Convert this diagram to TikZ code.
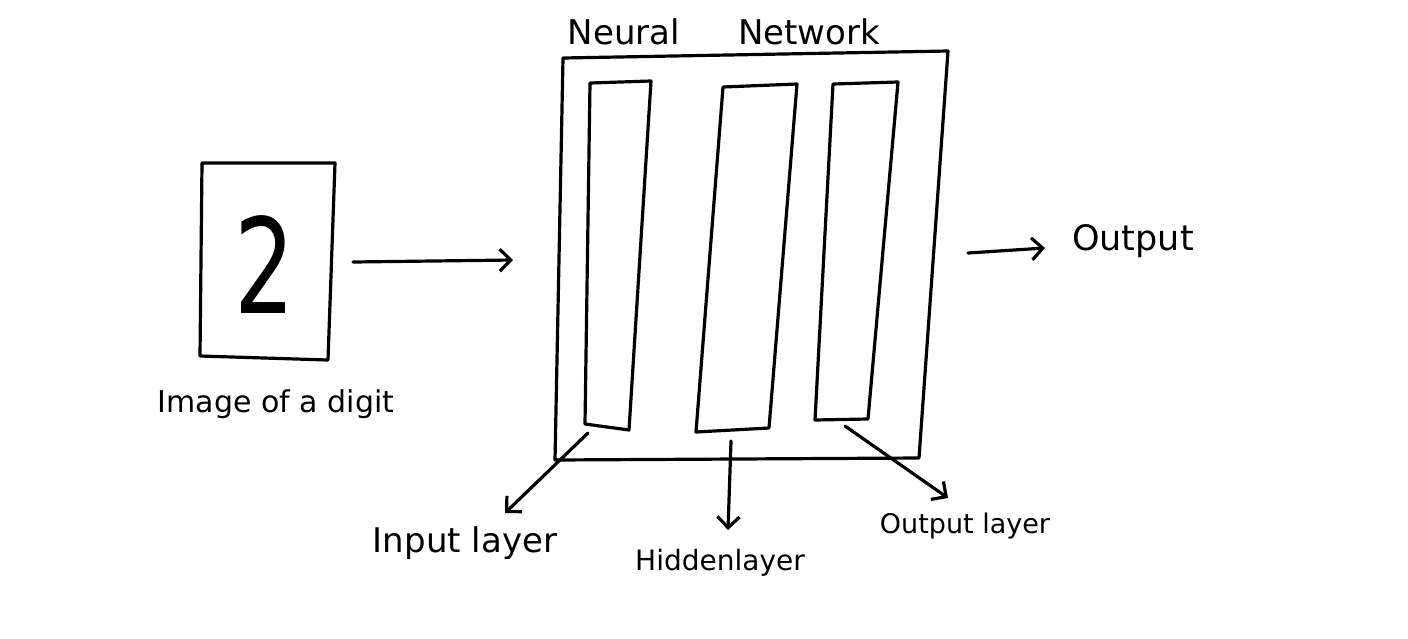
\documentclass[tikz,border=0pt]{standalone}
\usepackage{fontspec}
\setmainfont{DejaVu Sans}
\usetikzlibrary{arrows.meta}
\begin{document}
\begin{tikzpicture}[x=1pt,y=-1pt,
  ink/.style={line width=3.2pt, line join=round, line cap=round, black},
  arr/.style={ink, -{Straight Barb[length=11pt,width=22pt]}},
  lbl/.style={inner sep=0pt, font=\fontsize{#1}{#1}\selectfont},
  lbl/.default=30
]
\useasboundingbox[fill=white] (0,0) rectangle (1408,638);

% image of a digit
\coordinate (i1) at (202,163);
\coordinate (i2) at (335,163);
\coordinate (i3) at (328,360);
\coordinate (i4) at (200,356);
\draw[ink] (i1) -- (i2) -- (i3) -- (i4) -- cycle;
\node[lbl=132] (digit) at (265,265) {\scalebox{0.72}[1]{2}};
\node[lbl=30] (imglbl) at (276,404) {Image of a digit};

% neural network box
\coordinate (n1) at (563,58);
\coordinate (n2) at (948,51);
\coordinate (n3) at (919,458);
\coordinate (n4) at (555,460);
\draw[ink] (n1) -- (n2) -- (n3) -- (n4) -- cycle;
\node[lbl=34] (nntitle) at (724,32) {Neural\hspace{58pt}Network};

% input layer
\coordinate (p1) at (590,83);
\coordinate (p2) at (651,81);
\coordinate (p3) at (629,430);
\coordinate (p4) at (585,424);
\draw[ink] (p1) -- (p2) -- (p3) -- (p4) -- cycle;

% hidden layer
\coordinate (h1) at (723,87);
\coordinate (h2) at (797,84);
\coordinate (h3) at (769,428);
\coordinate (h4) at (696,432);
\draw[ink] (h1) -- (h2) -- (h3) -- (h4) -- cycle;

% output layer
\coordinate (o1) at (833,84);
\coordinate (o2) at (898,82);
\coordinate (o3) at (868,419);
\coordinate (o4) at (815,420);
\draw[ink] (o1) -- (o2) -- (o3) -- (o4) -- cycle;

% main arrows
\coordinate (a1s) at (353,262);
\coordinate (a1e) at (513,260);
\draw[arr] (a1s) -- (a1e);
\coordinate (a2s) at (968,253);
\coordinate (a2e) at (1045,248);
\draw[arr] (a2s) -- (a2e);
\node[lbl=35] (outlbl) at (1133,241) {Output};

% layer labels
\coordinate (li) at (588,433);
\coordinate (lie) at (505,513);
\draw[arr] (li) -- (lie);
\node[lbl=34] (inlbl) at (465,543) {Input layer};

\coordinate (lh) at (731,441);
\coordinate (lhe) at (728,530);
\draw[arr] (lh) -- (lhe);
\node[lbl=28] (hidlbl) at (720,563) {Hiddenlayer};

\coordinate (lo) at (845,426);
\coordinate (loe) at (948,498);
\draw[arr] (lo) -- (loe);
\node[lbl=27] (olbl) at (965,526) {Output layer};
\end{tikzpicture}
\end{document}
